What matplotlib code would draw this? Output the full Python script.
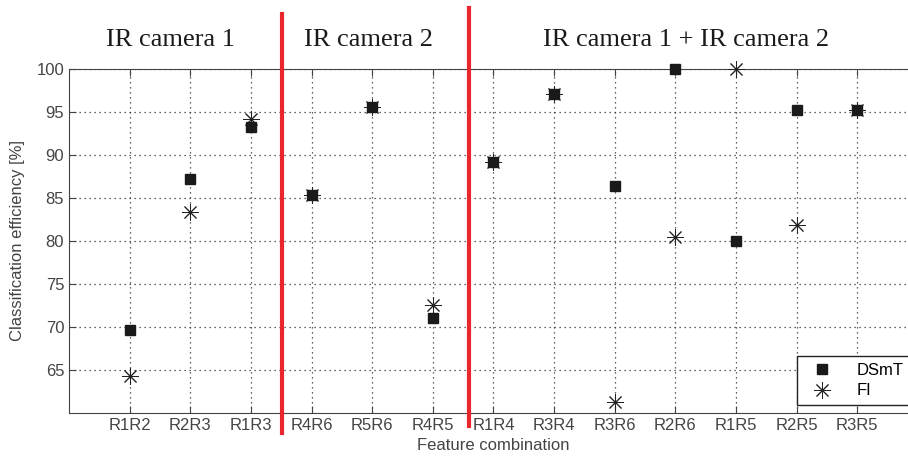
import matplotlib.pyplot as plt

combos = ["R1R2", "R2R3", "R1R3", "R4R6", "R5R6", "R4R5", "R1R4",
          "R3R4", "R3R6", "R2R6", "R1R5", "R2R5", "R3R5"]
dsmt = [69.6, 87.2, 93.2, 85.3, 95.6, 71.0, 89.2, 97.1, 86.4, 100.0, 80.0, 95.2, 95.2]
fi = [64.3, 83.4, 94.2, 85.3, 95.6, 72.6, 89.2, 97.1, 61.3, 80.5, 100.0, 81.9, 95.2]
groups = ["IR camera 1", "IR camera 2", "IR camera 1 + IR camera 2"]
group_centers = [1.68, 4.94, 10.17]
dividers = [3.52, 6.6]

fig = plt.figure(figsize=(9.08, 4.59), dpi=100)
ax = fig.add_axes([0.076, 0.1002, 0.935, 0.7495])

x = list(range(1, len(combos) + 1))
ax.plot(x, fi, linestyle="none", marker=(8, 2, 0), markersize=12,
        markeredgewidth=0.7, color="#222222", label="FI", zorder=3,
        clip_on=False)
ax.plot(x, dsmt, linestyle="none", marker="s", markersize=7.5,
        color="#1a1a1a", label="DSmT", zorder=4, clip_on=False)

ax.set_xlim(0, 14)
ax.set_ylim(60, 100)
ax.set_xticks(x)
ax.set_xticklabels(combos)
ax.set_yticks([65, 70, 75, 80, 85, 90, 95, 100])

gray = "#444444"
for s in ax.spines.values():
    s.set_color(gray)
ax.tick_params(direction="in", top=True, colors=gray, labelcolor="#444444",
               labelsize=12, length=5)
for lab in ax.get_xticklabels() + ax.get_yticklabels():
    lab.set_family("Liberation Sans")
ax.grid(True, linestyle=(0, (1, 3)), color="#333333", linewidth=0.9)

ax.set_xlabel("Feature combination", family="Liberation Sans", fontsize=12,
              color="#444444", labelpad=4)
ax.set_ylabel("Classification efficiency [%]", family="Liberation Sans",
              fontsize=12, color="#444444", labelpad=8)

# red separators between camera groups
ax.axvline(dividers[0], ymin=-0.058, ymax=1.16, color="#e8262b", lw=3,
           clip_on=False, zorder=5)
ax.axvline(dividers[1], ymin=-0.038, ymax=1.177, color="#e8262b", lw=3,
           clip_on=False, zorder=5)

for g, cx in zip(groups, group_centers):
    ax.text(cx, 1.084, g, transform=ax.get_xaxis_transform(), ha="center",
            va="center", family="Liberation Serif", fontsize=19,
            color="#1a1a1a")

# legend box runs off the right edge, like the original
h, l = ax.get_legend_handles_labels()
leg = ax.legend(h[::-1], l[::-1], loc="lower left",
                bbox_to_anchor=(0.857, 0.023, 0.16, 0.14), mode="expand",
                borderaxespad=0,
                prop={"family": "Liberation Sans", "size": 12},
                fancybox=False, framealpha=1, edgecolor="#222222",
                handletextpad=0.9, labelspacing=0.35, handlelength=2.3)
leg.get_frame().set_linewidth(1.0)

fig.savefig("out.png", dpi=100)
